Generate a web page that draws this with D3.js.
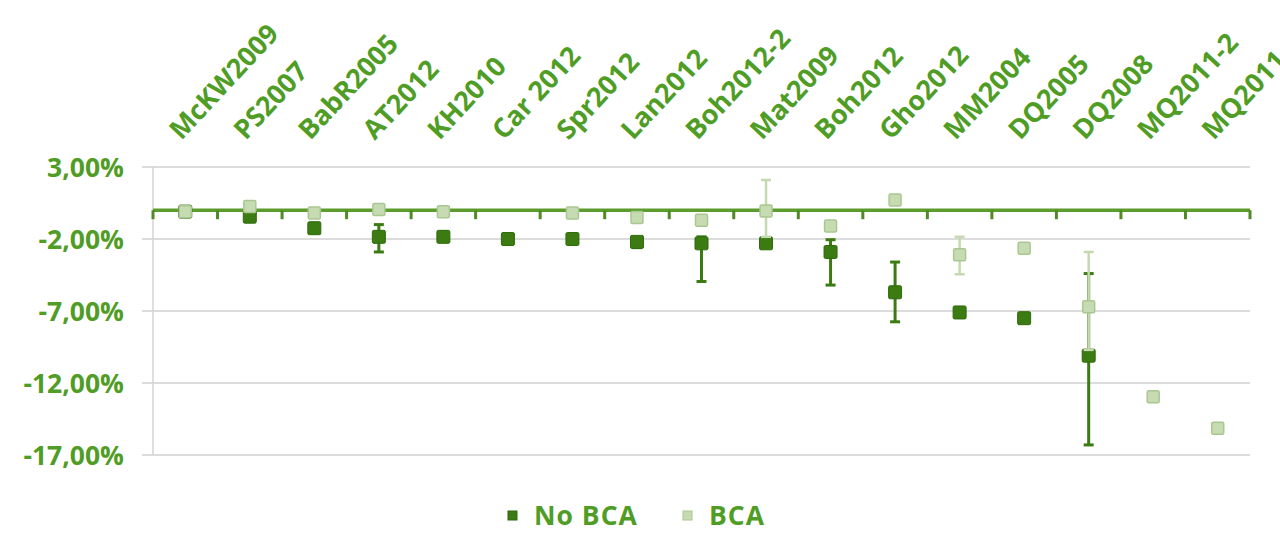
<!DOCTYPE html>
<html>
<head>
<meta charset="utf-8">
<script src="https://cdn.jsdelivr.net/npm/d3@7/dist/d3.min.js"></script>
<style>
  html, body { margin: 0; padding: 0; background: #ffffff; overflow: hidden; }
  svg { display: block; }
  text { font-family: "Open Sans", "Liberation Sans", sans-serif; font-weight: 700; }
</style>
</head>
<body>
<svg id="chart" width="1280" height="534"></svg>
<script>
// Studies along the category axis
const categories = ["McKW2009", "PS2007", "BabR2005", "AT2012", "KH2010", "Car 2012", "Spr2012",
  "Lan2012", "Boh2012-2", "Mat2009", "Boh2012", "Gho2012", "MM2004", "DQ2005", "DQ2008",
  "MQ2011-2", "MQ2011"];

// Change in percent, without border carbon adjustment
const noBca     = [-0.1, -0.45, -1.25, -1.85, -1.85, -2.0, -2.0, -2.2, -2.3, -2.3, -2.9, -5.7, -7.1, -7.5, -10.1, null, null];
const noBcaLow  = [null, null, null, -2.9, null, null, null, -2.6, -4.95, null, -5.2, -7.75, null, null, -16.3, null, null];
const noBcaHigh = [null, null, null, -1.0, null, null, null, -1.9, -1.85, null, -2.05, -3.6, null, null, -4.4, null, null];

// Change in percent, with border carbon adjustment
const bca     = [-0.1, 0.25, -0.2, 0.05, -0.1, null, -0.2, -0.5, -0.7, -0.05, -1.1, 0.7, -3.1, -2.65, -6.7, -12.95, -15.15];
const bcaLow  = [null, null, null, null, null, null, null, null, null, -1.85, null, null, -4.45, null, -9.7, null, null];
const bcaHigh = [null, null, null, null, null, null, null, null, null, 2.1, null, null, -1.85, null, -2.9, null, null];

// Value axis ticks
const yTicks = [3, -2, -7, -12, -17];

const legendItems = ["No BCA", "BCA"];

const textGreen = "#4f9d25";
const darkGreen = "#3b7b12";
const lightFill = "#c6dbb2";
const lightStroke = "#a9c891";

const svg = d3.select("#chart");

const x = d3.scaleBand().domain(categories).range([153, 1250]).padding(0);
const y = d3.scaleLinear().domain([-17, 3]).range([455, 167]);
const fmt = v => v.toFixed(2).replace(".", ",") + "%";

// Horizontal gridlines
svg.append("g").selectAll("line").data(yTicks).join("line")
  .attr("x1", 142).attr("x2", 1250)
  .attr("y1", d => y(d)).attr("y2", d => y(d))
  .attr("stroke", "#dcdcdc").attr("stroke-width", 2);

// Vertical value-axis line
svg.append("line")
  .attr("x1", x.range()[0]).attr("x2", x.range()[0])
  .attr("y1", y(3)).attr("y2", y(-17))
  .attr("stroke", "#d4d4d4").attr("stroke-width", 1.5);

// Value-axis labels
svg.append("g").selectAll("text").data(yTicks).join("text")
  .attr("x", 124).attr("y", d => y(d)).attr("dy", "0.36em")
  .attr("text-anchor", "end")
  .attr("font-size", 26.5)
  .attr("fill", textGreen)
  .text(fmt);

// Category axis crossing at zero, with tick marks at band boundaries
const y0 = y(0);
svg.append("line")
  .attr("x1", x.range()[0]).attr("x2", x.range()[1])
  .attr("y1", y0).attr("y2", y0)
  .attr("stroke", "#5c9c2c").attr("stroke-width", 3.5);
const bounds = categories.map(c => x(c)).concat([x.range()[1]]);
svg.append("g").selectAll("line").data(bounds).join("line")
  .attr("x1", d => d).attr("x2", d => d)
  .attr("y1", y0).attr("y2", y0 + 9)
  .attr("stroke", "#4f8a25").attr("stroke-width", 3);

// Rotated category labels above the plot
svg.append("g").selectAll("text").data(categories).join("text")
  .attr("transform", d => `translate(${x(d) + x.bandwidth() / 2 - 4},141) rotate(-47)`)
  .attr("text-anchor", "start")
  .attr("font-size", 27)
  .attr("fill", textGreen)
  .text(d => d);

function drawSeries(values, lows, highs, opt) {
  const g = svg.append("g");
  const idx = d3.range(categories.length);
  const cx = i => x(categories[i]) + x.bandwidth() / 2;
  const withErr = idx.filter(i => lows[i] != null && highs[i] != null);
  g.selectAll("line.bar").data(withErr).join("line")
    .attr("class", "bar")
    .attr("x1", cx).attr("x2", cx)
    .attr("y1", i => y(highs[i])).attr("y2", i => y(lows[i]))
    .attr("stroke", opt.errColor).attr("stroke-width", opt.errWidth);
  const caps = withErr.flatMap(i => [[i, highs[i]], [i, lows[i]]]);
  g.selectAll("line.cap").data(caps).join("line")
    .attr("class", "cap")
    .attr("x1", d => cx(d[0]) - 5).attr("x2", d => cx(d[0]) + 5)
    .attr("y1", d => y(d[1])).attr("y2", d => y(d[1]))
    .attr("stroke", opt.errColor).attr("stroke-width", opt.errWidth);
  const pts = idx.filter(i => values[i] != null);
  g.selectAll("rect").data(pts).join("rect")
    .attr("x", i => cx(i) - opt.size / 2)
    .attr("y", i => y(values[i]) - opt.size / 2)
    .attr("width", opt.size).attr("height", opt.size)
    .attr("rx", 1.5)
    .attr("fill", opt.fill)
    .attr("stroke", opt.stroke).attr("stroke-width", opt.strokeWidth);
}

drawSeries(noBca, noBcaLow, noBcaHigh,
  { errColor: darkGreen, errWidth: 3, size: 13, fill: darkGreen, stroke: "#2f6a0c", strokeWidth: 1 });
drawSeries(bca, bcaLow, bcaHigh,
  { errColor: "#c4d9b0", errWidth: 2.5, size: 12, fill: lightFill, stroke: lightStroke, strokeWidth: 1.5 });

// Legend
const legend = svg.append("g");
const legendX = [508, 683];
const legendColors = [[darkGreen, "#2f6a0c"], [lightFill, lightStroke]];
legendItems.forEach((name, i) => {
  legend.append("rect")
    .attr("x", legendX[i]).attr("y", 511).attr("width", 9).attr("height", 9)
    .attr("fill", legendColors[i][0]).attr("stroke", legendColors[i][1]).attr("stroke-width", 1);
  legend.append("text")
    .attr("x", legendX[i] + 26).attr("y", 525)
    .attr("font-size", 26.5).attr("letter-spacing", 1)
    .attr("fill", textGreen)
    .text(name);
});
</script>
</body>
</html>
